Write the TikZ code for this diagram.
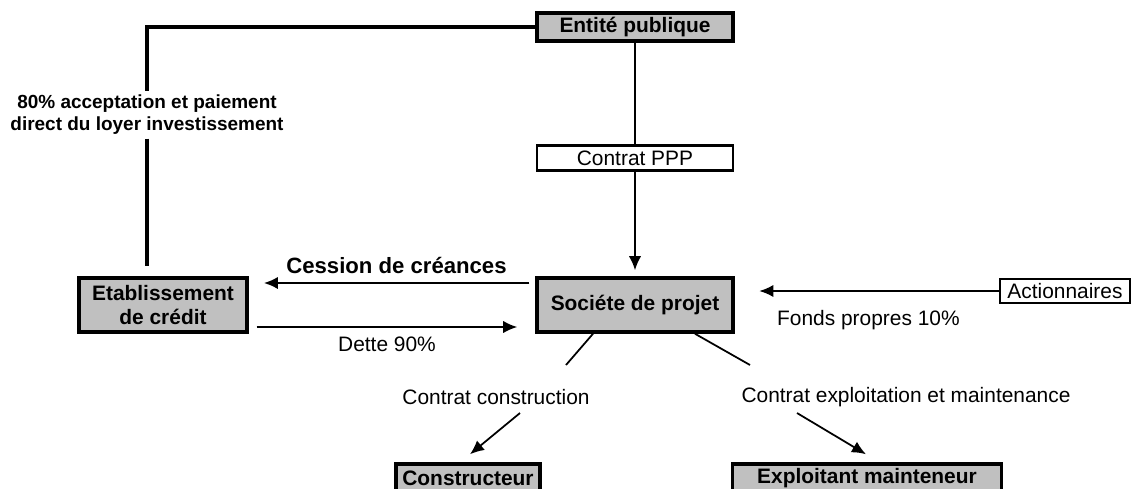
\documentclass[tikz,border=0pt]{standalone}
\usepackage{fontspec}
\setmainfont{Liberation Sans}
\usetikzlibrary{arrows.meta,positioning}
\definecolor{boxgrey}{HTML}{C0C0C0}
\begin{document}
\begin{tikzpicture}[x=0.02cm,y=-0.02cm,
    font=\fontsize{11.9}{13.5}\selectfont,
    greybox/.style={draw,line width=2pt,fill=boxgrey,font=\fontsize{11.9}{13.5}\selectfont\bfseries,inner sep=0pt,align=center},
    whitebox/.style={draw,line width=1.4pt,fill=white,inner sep=0pt},
    conn/.style={line width=1pt},
    arr/.style={line width=1pt,-{Latex[length=8pt,width=7pt]}}]
    \clip (0,0) rectangle (1134,488);
    %Akteure
    \node[greybox,minimum width=3.92cm,minimum height=0.56cm] (ep)   at (635,27)  {Entité publique};
    \node[whitebox,minimum width=3.92cm,minimum height=0.5cm] (ppp)  at (635,158) {Contrat PPP};
    \node[greybox,minimum width=3.92cm,minimum height=1.08cm] (soc)  at (635,305) {Sociéte de projet};
    \node[greybox,minimum width=3.36cm,minimum height=1.08cm] (eta)  at (163,305) {Etablissement\\de crédit};
    \node[whitebox,minimum width=2.6cm,minimum height=0.48cm] (act)  at (1065,291) {Actionnaires};
    \node[greybox,minimum width=2.88cm,minimum height=0.56cm] (cons) at (468,478) {Constructeur};
    \node[greybox,minimum width=5.38cm,minimum height=0.56cm] (expl) at (867,478) {Exploitant mainteneur};
    %Beschriftungen
    \node[font=\fontsize{10.8}{12.5}\selectfont\bfseries,align=center,fill=white,inner sep=2pt] (accept) at (147,115)
        {80\% acceptation et paiement\\direct du loyer investissement};
    \node (cc) at (496,397) {Contrat construction};
    \node (ce) at (906,397) {Contrat exploitation et maintenance};
    \node[anchor=west] (fp) at (771,320) {Fonds propres 10\%};
    %Verbindungen
    \draw[line width=2pt] (ep.west) -| (accept.north);
    \draw[line width=2pt,shorten >=5.7pt] (accept.south) -- (accept.south |- eta.north);
    \draw[line width=0.6pt] (ep.south) -- (ppp.north);
    \draw[arr,shorten >=3.4pt] (ppp.south) -- (soc.north);
    \draw[arr,line width=1.4pt] ([shift={(-6,-22)}]soc.west) -- ([shift={(15,-22)}]eta.east)
        node[midway,above=1pt,font=\fontsize{12.6}{13.5}\selectfont\bfseries] {Cession de créances};
    \draw[arr] ([shift={(8,22)}]eta.east) -- ([shift={(-18,22)}]soc.west)
        node[midway,below=2pt] {Dette 90\%};
    \draw[arr,shorten >=14pt] (act.west) -- (act.west -| soc.east);
    \coordinate (cl) at (566,365);
    \coordinate (cr) at (750,365);
    \draw[conn] ([shift={(-42,0)}]soc.south) -- (cl);
    \draw[conn] ([shift={(60,0)}]soc.south) -- (cr);
    \draw[arr] (520,413) -- ([shift={(2,-8)}]cons.north);
    \draw[arr] (797,413) -- ([shift={(-1,-8)}]expl.north);
\end{tikzpicture}
\end{document}
